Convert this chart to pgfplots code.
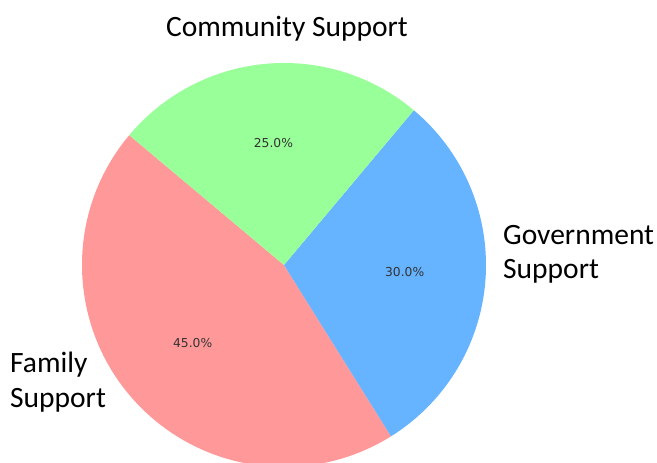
\documentclass[border=0pt]{standalone}
\usepackage{pgfplots}
\pgfplotsset{compat=1.18}
\usepackage{pgfplotstable}
\usepackage{fontspec}
\setmainfont{Carlito}
\newfontfamily\pctfont{DejaVu Sans}
\definecolor{cfam}{HTML}{FF9999}
\definecolor{cgov}{HTML}{66B3FF}
\definecolor{ccom}{HTML}{99FF99}

% slices in matplotlib order, counterclockwise from start angle 140
\pgfplotstableread{
label value color
Family 45 cfam
Government 30 cgov
Community 25 ccom
}\slices

\begin{document}
\begin{tikzpicture}
\begin{axis}[
  scale only axis, width=657pt, height=463pt,
  x=1pt, y=1pt,
  xmin=-284, xmax=373, ymin=-198, ymax=265,
  hide axis, clip=true,
]
\path (axis cs:-284,-198) rectangle (axis cs:373,265);
\pgfplotstablegetrowsof{\slices}
\pgfmathtruncatemacro{\nrows}{\pgfplotsretval-1}
\def\curang{140}
\pgfplotsforeachungrouped \i in {0,...,\nrows}{%
  \pgfplotstablegetelem{\i}{value}\of{\slices}\let\val\pgfplotsretval
  \pgfplotstablegetelem{\i}{color}\of{\slices}\let\col\pgfplotsretval
  \pgfmathsetmacro{\endang}{\curang+3.6*\val}
  \pgfmathsetmacro{\midang}{(\curang+\endang)/2}
  \pgfmathsetmacro{\lx}{121*cos(\midang)}
  \pgfmathsetmacro{\ly}{121*sin(\midang)}
  \edef\temp{%
    \noexpand\fill[\col] (axis cs:0,0) -- ++(\curang:202pt) arc[start angle=\curang, end angle=\endang, radius=202pt] -- cycle;
    \noexpand\node[font=\noexpand\pctfont\noexpand\fontsize{12.3}{14}\noexpand\selectfont, text=black!80] at (axis cs:\lx,\ly+1.5) {\val.0\noexpand\%};
  }%
  \temp
  \global\let\curang\endang
}
\node[font=\fontsize{29.5}{34}\selectfont, anchor=base, inner sep=0pt] at (axis cs:3,228) {Community Support};
\node[font=\fontsize{29.5}{34}\selectfont, anchor=base west, align=left, inner sep=0pt] at (axis cs:219,-14) {Government\\Support};
\node[font=\fontsize{29.5}{35}\selectfont, anchor=base west, align=left, inner sep=0pt] at (axis cs:-274,-143) {Family\\Support};
\end{axis}
\end{tikzpicture}
\end{document}
